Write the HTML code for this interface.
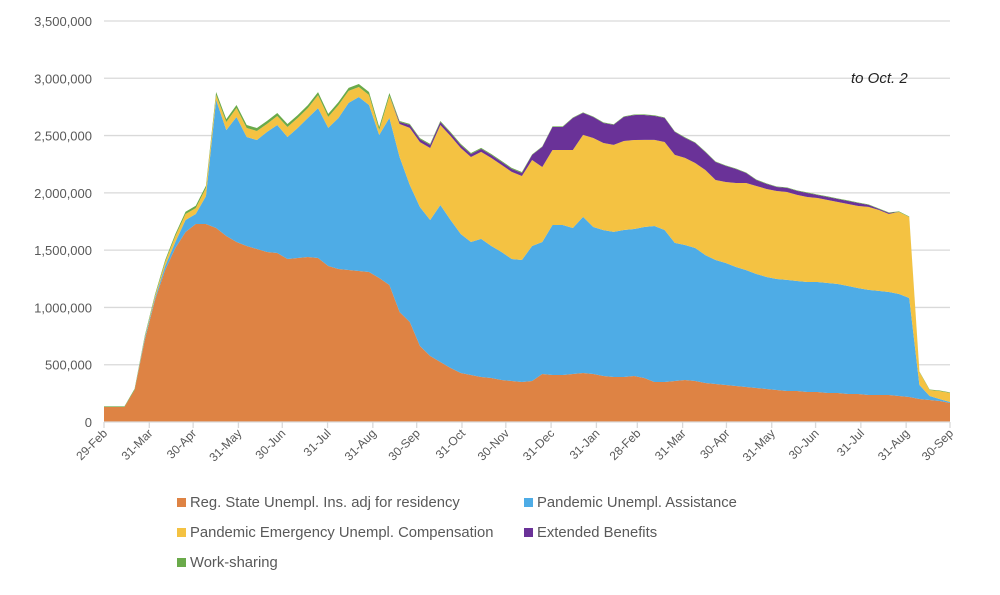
<!DOCTYPE html>
<html><head><meta charset="utf-8"><style>
body{margin:0;background:#fff;font-family:"Liberation Sans",sans-serif;}
svg text{font-family:"Liberation Sans",sans-serif;fill:#595959;}
</style></head><body>
<svg id="chart" width="1000" height="590" viewBox="0 0 1000 590" xmlns="http://www.w3.org/2000/svg">
<g id="grid"></g><g id="areas"></g><g id="axes"></g><g id="legend"></g>
<text x="851" y="83" font-size="15" font-style="italic" style="fill:#222">to Oct. 2</text>
</svg>
<script>
const yTicks=[0,500000,1000000,1500000,2000000,2500000,3000000,3500000];
const xLabels=["29-Feb","31-Mar","30-Apr","31-May","30-Jun","31-Jul","31-Aug","30-Sep","31-Oct","30-Nov","31-Dec","31-Jan","28-Feb","31-Mar","30-Apr","31-May","30-Jun","31-Jul","31-Aug","30-Sep"];
const xLabelDays=[0,31,61,92,122,153,184,214,245,275,306,337,365,396,426,457,487,518,549,579];
const regState=[131,131,131,279,716,1065,1327,1519,1658,1728,1728,1693,1623,1571,1536,1510,1484,1475,1423,1431,1440,1431,1362,1335,1327,1318,1309,1257,1196,960,873,663,576,524,471,428,410,393,384,367,358,349,358,419,410,410,419,428,419,401,393,393,401,384,349,349,358,367,358,340,332,323,314,305,297,288,279,271,271,262,262,253,253,244,244,236,236,236,227,218,201,192,183,166];
const pua=[0,0,0,0,17,17,35,52,105,87,244,1117,925,1091,951,951,1048,1117,1065,1135,1213,1309,1205,1318,1458,1519,1458,1248,1458,1353,1196,1213,1187,1370,1292,1213,1161,1205,1152,1117,1065,1065,1178,1152,1309,1309,1274,1362,1283,1274,1266,1283,1283,1318,1362,1327,1205,1178,1161,1117,1082,1065,1039,1021,995,978,969,969,960,960,960,960,951,943,925,917,908,899,890,864,122,35,17,9];
const peuc=[0,0,0,0,9,17,35,52,52,52,70,44,70,79,79,79,70,79,87,87,87,113,96,113,105,87,87,44,192,288,498,567,629,698,733,751,742,760,768,760,760,733,751,655,655,655,681,716,777,760,760,777,777,760,751,768,768,760,742,742,698,707,733,760,768,768,768,768,751,742,733,725,716,716,716,725,707,681,716,707,113,52,70,79];
const eb=[0,0,0,0,0,0,0,0,0,0,0,0,0,0,0,0,0,0,0,0,0,0,0,0,0,0,0,0,0,17,26,26,26,26,26,26,26,26,26,26,26,26,44,175,201,201,279,192,183,175,175,210,218,218,210,210,201,175,175,157,157,140,122,87,52,44,35,35,35,35,26,26,26,26,26,17,9,9,0,0,0,0,0,0];
const workShare=[5,5,5,10,12,14,16,18,20,20,20,26,26,26,26,26,26,26,26,26,26,26,26,26,26,26,26,26,26,9,9,9,9,9,9,9,9,9,9,9,9,9,5,5,5,5,5,5,5,5,5,5,5,5,5,5,5,5,5,5,5,5,5,5,5,5,5,5,5,5,5,5,5,5,5,5,5,5,5,5,5,5,5,5];
const series=[regState,pua,peuc,eb,workShare];
const colors=["#de8344","#4eace6","#f4c242","#6a3298","#6aaa4a"];
const names=["Reg. State Unempl. Ins. adj for residency","Pandemic Unempl. Assistance","Pandemic Emergency Unempl. Compensation","Extended Benefits","Work-sharing"];
const slugs=["area-reg-state","area-pua","area-peuc","area-extended-benefits","area-work-sharing"];
const X0=104,X1=950,Y0=422,Y1=21;
const xIdx=i=>X0+i*(X1-X0)/(regState.length-1);
const xDay=d=>X0+d*(X1-X0)/579;
const y=v=>Y0-v/3500000*(Y0-Y1);
const NS="http://www.w3.org/2000/svg";
function mk(t,a,p){const e=document.createElementNS(NS,t);for(const k in a)e.setAttribute(k,a[k]);p.appendChild(e);return e;}
const grid=document.getElementById('grid'),axes=document.getElementById('axes'),areas=document.getElementById('areas'),leg=document.getElementById('legend');
yTicks.forEach(v=>{
 if(v>0){const l=mk('line',{x1:X0,x2:X1,y1:y(v),y2:y(v),stroke:'#d9d9d9','stroke-width':1.3},grid);
 
 }
 const t=mk('text',{x:92,y:y(v)+5,'text-anchor':'end','font-size':13},axes);t.textContent=v.toLocaleString('en-US');
 
 
});
let base=regState.map(()=>0);
series.forEach((s,k)=>{
 const top=s.map((v,i)=>base[i]+v*1000);
 let d='M'+top.map((v,i)=>xIdx(i)+','+y(v)).join('L');
 for(let i=base.length-1;i>=0;i--)d+='L'+xIdx(i)+','+y(base[i]);
 const p=mk('path',{d:d+'Z',fill:colors[k]},areas);
 
 
 base=top;
});
const ax=mk('line',{x1:X0,x2:X1,y1:Y0,y2:Y0,stroke:'#d9d9d9','stroke-width':1.3},axes);


xLabels.forEach((lab,j)=>{
 const x=xDay(xLabelDays[j]);
 const tk=mk('line',{x1:x,x2:x,y1:Y0,y2:Y0+6,stroke:'#d9d9d9','stroke-width':1.3},axes);
 
 
 const t=mk('text',{x:x+4,y:Y0+12,'text-anchor':'end','font-size':12,transform:`rotate(-45 ${x+4} ${Y0+12})`},axes);t.textContent=lab;
 
 
});
const lpos=[[177,503],[524,503],[177,533],[524,533],[177,563]];
names.forEach((n,k)=>{
 const g=mk('g',{},leg);
 
 
 mk('rect',{x:lpos[k][0],y:lpos[k][1]-5,width:9,height:9,fill:colors[k]},g);
 const t=mk('text',{x:lpos[k][0]+13,y:lpos[k][1]+4,'font-size':14.8},g);t.textContent=n;
});
</script>
</body></html>
